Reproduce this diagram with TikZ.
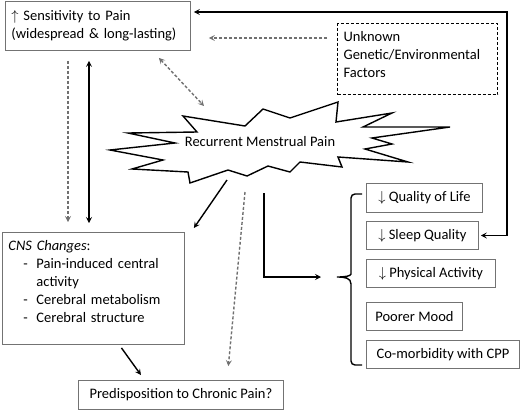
\documentclass[tikz,border=0pt]{standalone}
\usepackage{fontspec}
\setmainfont{Carlito}
\usetikzlibrary{arrows.meta}
\usetikzlibrary{positioning}

\definecolor{boxgray}{RGB}{115,115,115}
\definecolor{arrgray}{RGB}{112,112,112}
\newcommand{\boxfont}{\fontsize{14.5}{18}\selectfont}

\tikzset{
    box/.style={draw=boxgray, line width=0.9pt, font=\boxfont, align=left,
        inner xsep=6pt, inner ysep=0pt, anchor=north west},
    dashbox/.style={box, draw=black, line width=1.2pt, dash pattern=on 3pt off 2pt},
    arr/.style={->, line width=1.4pt, >={Stealth[length=6pt,width=6pt,inset=2.5pt]}},
    grayarr/.style={arr, draw=arrgray, line width=1.4pt, dash pattern=on 3pt off 2pt},
    brace/.style={line width=1.4pt}
}

\begin{document}
\begin{tikzpicture}[x=1pt,y=-1pt]
    \useasboundingbox (0,0) rectangle (520,410);

    % boxes
    \node[box, text width=173pt, minimum height=49pt] (sens) at (5,1)
        {$\uparrow$ Sensitivity to Pain\\(widespread \& long-lasting)};
    \node[dashbox, text width=148pt, minimum height=71pt] (unk) at (337,23)
        {Unknown\\Genetic/Environmental\\Factors\rule[-9pt]{0pt}{9pt}};
    \node[box, text width=170pt, minimum height=112pt] (cns) at (2,232)
        {\textit{CNS Changes}:\\
         \hspace*{15pt}\makebox[13pt][l]{-}Pain-induced central\\
         \hspace*{28pt}activity\\
         \hspace*{15pt}\makebox[13pt][l]{-}Cerebral metabolism\\
         \hspace*{15pt}\makebox[13pt][l]{-}Cerebral structure\rule[-14pt]{0pt}{14pt}};
    \node[box, minimum width=205pt, minimum height=29pt] (pred) at (78,380)
        {Predisposition to Chronic Pain?};

    \node[box, minimum width=116pt, minimum height=29pt] (qol) at (366,183)
        {$\downarrow$ Quality of Life};
    \node[box, minimum width=112pt, minimum height=28pt] (sleep) at (366,221)
        {$\downarrow$ Sleep Quality};
    \node[box, minimum width=129pt, minimum height=28pt] (phys) at (366,259)
        {$\downarrow$ Physical Activity};
    \node[box, minimum width=96pt, minimum height=28pt] (mood) at (366,302)
        {Poorer Mood};
    \node[box, minimum width=153pt, minimum height=28pt] (como) at (366,340)
        {Co-morbidity with CPP};

    % starburst
    \draw[line width=1.4pt, fill=white]
        (183,116) -- (245,126) -- (263,109) -- (290,118) -- (338,102)
        -- (336,122) -- (392,113) -- (363,127) -- (450,127) -- (372,138)
        -- (392,144) -- (365,149) -- (408,162) -- (338,157) -- (342,167)
        -- (300,162) -- (290,172) -- (268,166) -- (247,176) -- (228,170)
        -- (190,183) -- (188,172) -- (132,169) -- (163,160) -- (110,150)
        -- (175,143) -- (128,133) -- (197,132) -- cycle;
    \node[font=\boxfont, inner sep=0pt] (rmp) at (260,142) {Recurrent Menstrual Pain};

    \coordinate (rtop) at (507,12);
    \coordinate (rA) at (204,106);
    \coordinate (rB) at (227,180);
    \coordinate (rC) at (245,192);
    \coordinate (rD) at (264,193);
    \coordinate (brtip) at (337,277);

    % connectors
    \draw[arr, <->, shorten <=3pt, shorten >=2pt] (sens.east |- rtop) -- (rtop) |- (sleep.east);
    \draw[grayarr, shorten <=10pt, shorten >=18pt] (unk.west |- 0,38) -- (sens.east |- 0,38);
    \draw[grayarr, <->] ([shift={(-32,7)}]sens.south east) -- (rA);
    \draw[grayarr, shorten <=10pt, shorten >=10pt] (sens.south -| 68,0) -- (cns.north -| 68,0);
    \draw[arr, <->, shorten <=10pt, shorten >=9pt] (sens.south -| 89,0) -- (cns.north -| 89,0);
    \draw[arr] (rB) -- ([shift={(9,-4)}]cns.north east);
    \draw[grayarr, shorten >=14pt] (rC) -- (pred.north -| 227,0);
    \draw[arr] ([shift={(28,3)}]cns.south) -- ([shift={(-40,-5)}]pred.north);
    \draw[arr, shorten >=16pt] (rD) |- (brtip);

    % brace
    \draw[brace] (362,194) [rounded corners=4pt] -- (351,194) -- (351,270) [sharp corners]
        .. controls (351,276) and (345,277) .. (brtip)
        .. controls (345,277) and (351,278) .. (351,284)
        [rounded corners=4pt] -- (351,365) -- (362,365);
\end{tikzpicture}
\end{document}
